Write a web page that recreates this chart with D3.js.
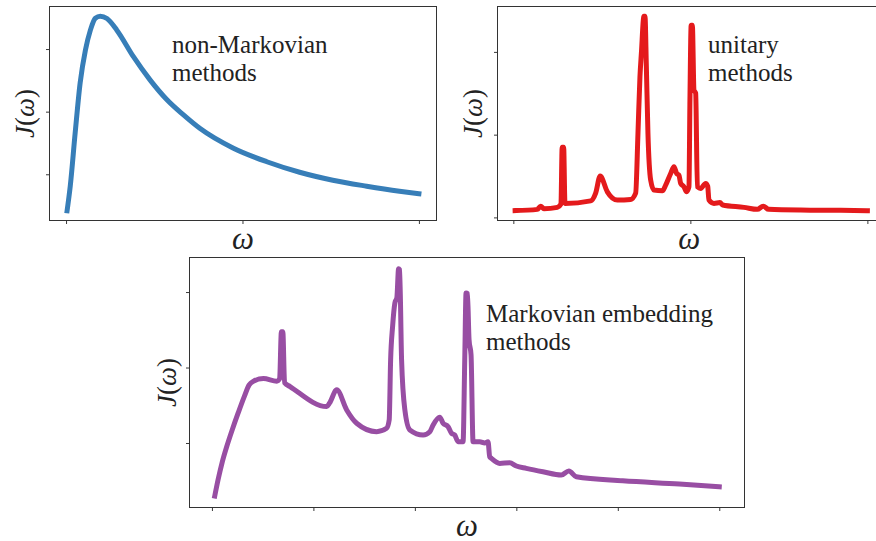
<!DOCTYPE html>
<html>
<head>
<meta charset="utf-8">
<script src="https://cdn.jsdelivr.net/npm/d3@7"></script>
<style>
  html, body { margin: 0; padding: 0; background: #fff; }
  svg { display: block; }
  .ann { font-family: "Liberation Serif", "DejaVu Serif", serif; fill: #222; }
</style>
</head>
<body>
<svg id="chart" width="876" height="541"></svg>
<script>
// ---------------- DATA ----------------
// Panel 1: non-Markovian methods (smooth spectral density)
const omega1 = [0.003, 0.012, 0.026, 0.040, 0.055, 0.069, 0.083, 0.097, 0.116, 0.144, 0.191, 0.238, 0.286, 0.332, 0.380, 0.473, 0.569, 0.662, 0.756, 0.852, 0.945, 1.000];
const J1     = [0.417, 0.814, 1.667, 2.460, 2.984, 3.302, 3.492, 3.524, 3.487, 3.302, 2.878, 2.508, 2.190, 1.952, 1.730, 1.420, 1.200, 1.032, 0.905, 0.810, 0.730, 0.690];

// Panel 2: unitary methods
const omega2 = [0.005, 0.0678, 0.0771, 0.0864, 0.1243, 0.1345, 0.1379, 0.1421, 0.1458, 0.2184, 0.2325, 0.2452, 0.2655, 0.2938, 0.3314, 0.3455, 0.3520, 0.3576, 0.3616, 0.3689, 0.3718, 0.3757, 0.3802, 0.3879, 0.3972, 0.4209, 0.4302, 0.4444, 0.4537, 0.4613, 0.4678, 0.4726, 0.4819, 0.4895, 0.4960, 0.4988, 0.5023, 0.5056, 0.5102, 0.5150, 0.5198, 0.5291, 0.5432, 0.5489, 0.5525, 0.5667, 0.5836, 0.5912, 0.6514, 0.6893, 0.7057, 0.7212, 0.8116, 0.9246, 1.000];
const J2     = [0.082, 0.097, 0.136, 0.104, 0.121, 0.161, 0.849, 0.849, 0.169, 0.200, 0.293, 0.499, 0.309, 0.209, 0.217, 0.293, 1.014, 1.698, 1.981, 2.431, 2.431, 1.819, 1.014, 0.450, 0.330, 0.321, 0.390, 0.531, 0.611, 0.531, 0.511, 0.411, 0.370, 0.309, 0.370, 1.417, 2.322, 2.322, 1.537, 1.501, 0.370, 0.350, 0.411, 0.378, 0.209, 0.169, 0.179, 0.149, 0.121, 0.097, 0.136, 0.097, 0.088, 0.085, 0.080];

// Panel 3: Markovian embedding methods
const omega3 = [0.0055, 0.0124, 0.0203, 0.0295, 0.0399, 0.0517, 0.0635, 0.0734, 0.0813, 0.1015, 0.1279, 0.1334, 0.1369, 0.1397, 0.1432, 0.154, 0.2262, 0.232, 0.2459, 0.2656, 0.2853, 0.3246, 0.3443, 0.3494, 0.3522, 0.3561, 0.3606, 0.3645, 0.3679, 0.3699, 0.3738, 0.3803, 0.3901, 0.4163, 0.4295, 0.4360, 0.4491, 0.4556, 0.4655, 0.4722, 0.4786, 0.4851, 0.4950, 0.4983, 0.5009, 0.5036, 0.5068, 0.5107, 0.5147, 0.5278, 0.5377, 0.5442, 0.5475, 0.5508, 0.5672, 0.5869, 0.600, 0.6197, 0.6524, 0.6886, 0.7035, 0.7181, 0.8098, 0.9213, 1.000];
const J3     = [0.296, 0.522, 0.748, 0.960, 1.173, 1.398, 1.611, 1.770, 1.817, 1.854, 1.819, 1.850, 2.474, 2.474, 1.797, 1.748, 1.482, 1.531, 1.704, 1.438, 1.262, 1.150, 1.195, 1.305, 2.102, 2.544, 2.855, 2.926, 3.307, 3.297, 2.102, 1.438, 1.173, 1.106, 1.150, 1.239, 1.341, 1.262, 1.216, 1.129, 1.106, 1.017, 1.017, 2.102, 2.988, 2.979, 2.368, 2.169, 1.017, 1.017, 1.000, 1.017, 0.818, 0.797, 0.730, 0.738, 0.695, 0.664, 0.619, 0.575, 0.628, 0.552, 0.499, 0.456, 0.420];

// Tick values (ticks carry no labels)
const xTicksTop    = [0, 0.5, 1];
const xTicksBottom = [0, 0.2, 0.4, 0.6, 0.8, 1];
const yTicks1 = [1, 2, 3];
const yTicks2 = [0, 1, 2];
const yTicks3 = [1, 2, 3];

// Texts
const annot1 = ["non-Markovian", "methods"];
const annot2 = ["unitary", "methods"];
const annot3 = ["Markovian embedding", "methods"];
const colors = ["#377eb8", "#e41a1c", "#984ea3"];

// ---------------- LAYOUT ----------------
const panels = [
  { box: {x0: 49.5,  x1: 436.5, y0: 6.5,   y1: 220.5}, om: omega1, J: J1, xt: xTicksTop,    yt: yTicks1, text: annot1, tx: 172, ty: 53,  color: colors[0], ylabX: 34 },
  { box: {x0: 497.5, x1: 885,   y0: 6.5,   y1: 220.5}, om: omega2, J: J2, xt: xTicksTop,    yt: yTicks2, text: annot2, tx: 708, ty: 53,  color: colors[1], ylabX: 482 },
  { box: {x0: 189.5, x1: 744.5, y0: 257.5, y1: 507.5}, om: omega3, J: J3, xt: xTicksBottom, yt: yTicks3, text: annot3, tx: 486, ty: 322, color: colors[2], ylabX: 176 }
];

const svg = d3.select("#chart");

function padded(ext) {
  const m = (ext[1] - ext[0]) * 0.05;
  return [ext[0] - m, ext[1] + m];
}

panels.forEach((p, i) => {
  const b = p.box;
  const x = d3.scaleLinear().domain(padded(d3.extent(p.om))).range([b.x0, b.x1]);
  const y = d3.scaleLinear().domain(padded(d3.extent(p.J))).range([b.y1, b.y0]);
  const g = svg.append("g");

  const cid = "clip" + i;
  svg.append("clipPath").attr("id", cid).append("rect")
    .attr("x", b.x0).attr("y", b.y0).attr("width", b.x1 - b.x0).attr("height", b.y1 - b.y0);

  const pts = p.om.map((w, k) => [w, p.J[k]]);
  const line = d3.line().x(d => x(d[0])).y(d => y(d[1])).curve(d3.curveMonotoneX);
  g.append("path").datum(pts)
    .attr("d", line)
    .attr("fill", "none")
    .attr("stroke", p.color)
    .attr("stroke-width", 5)
    .attr("stroke-linejoin", "round")
    .attr("stroke-linecap", "square")
    .attr("clip-path", `url(#${cid})`);

  const xa = g.append("g").attr("transform", `translate(0,${b.y1})`)
    .call(d3.axisBottom(x).tickValues(p.xt).tickFormat("").tickSizeInner(3.5).tickSizeOuter(0));
  const ya = g.append("g").attr("transform", `translate(${b.x0},0)`)
    .call(d3.axisLeft(y).tickValues(p.yt).tickFormat("").tickSizeInner(3.5).tickSizeOuter(0));
  [xa, ya].forEach(a => {
    a.select(".domain").remove();
    a.selectAll(".tick line").attr("stroke", "#222").attr("stroke-width", 0.9);
  });

  g.append("rect")
    .attr("x", b.x0).attr("y", b.y0)
    .attr("width", b.x1 - b.x0).attr("height", b.y1 - b.y0)
    .attr("fill", "none").attr("stroke", "#333").attr("stroke-width", 1);

  const t = g.append("text").attr("class", "ann").attr("font-size", 25);
  p.text.forEach((s, k) => {
    t.append("tspan").attr("x", p.tx).attr("y", p.ty + k * 27.5).text(s);
  });

  g.append("text").attr("class", "ann")
    .attr("x", (b.x0 + b.x1) / 2 + (i === 1 ? -2 : 0))
    .attr("y", b.y1 + 28)
    .attr("text-anchor", "middle")
    .attr("font-size", 31)
    .attr("font-style", "italic")
    .text("ω");

  const yl = g.append("text").attr("class", "ann")
    .attr("transform", `translate(${p.ylabX},${(b.y0 + b.y1) / 2}) rotate(-90)`)
    .attr("text-anchor", "middle")
    .attr("font-size", 27);
  yl.append("tspan").attr("font-style", "italic").text("J");
  yl.append("tspan").text("(");
  yl.append("tspan").attr("font-style", "italic").text("ω");
  yl.append("tspan").text(")");
});
</script>
</body>
</html>
